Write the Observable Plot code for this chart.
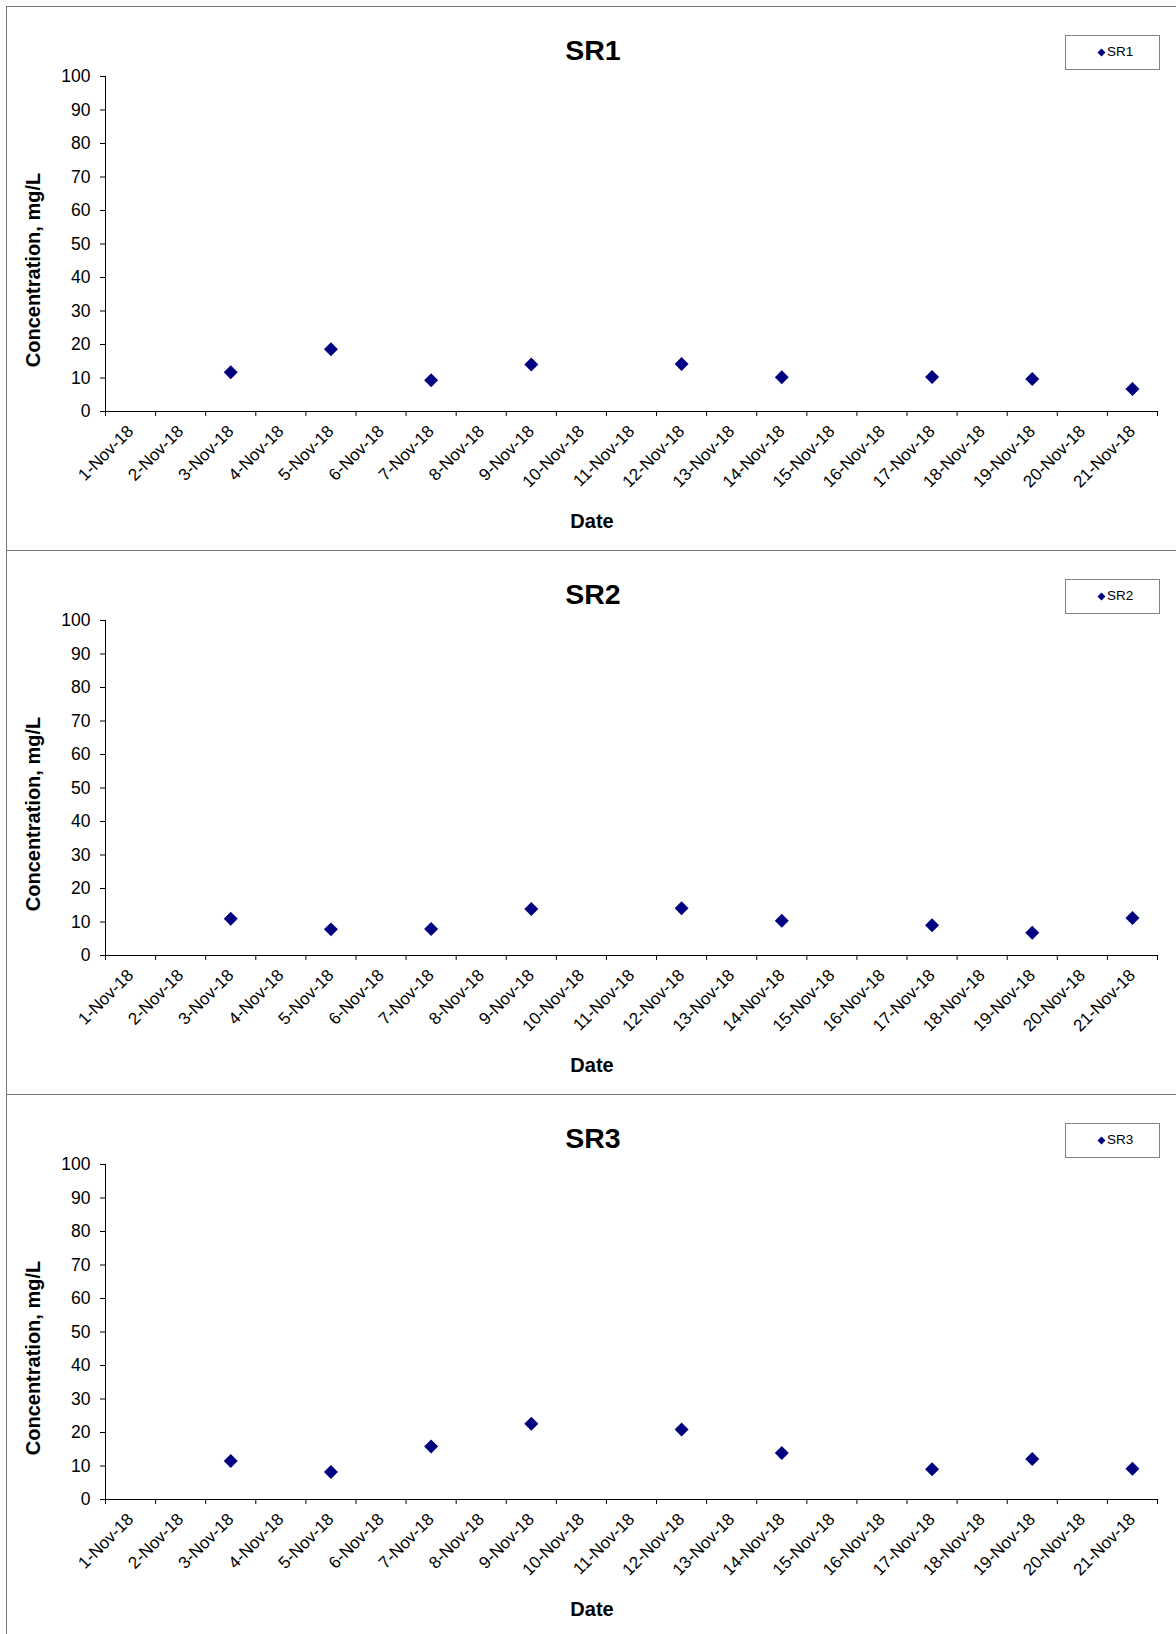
<!DOCTYPE html>
<html>
<head>
<meta charset="utf-8">
<script src="https://cdn.jsdelivr.net/npm/d3@7"></script>
<script src="https://cdn.jsdelivr.net/npm/@observablehq/plot@0.6"></script>
<style>
  html, body { margin: 0; padding: 0; background: #fff; overflow: hidden; }
  #root { position: relative; width: 1176px; height: 1634px; overflow: hidden; background: #fff;
          font-family: "Liberation Sans", Arial, sans-serif; color: #000; }
  .panel { position: absolute; left: 6px; width: 1170px; height: 544px; box-sizing: border-box;
           border-top: 1px solid #777; border-left: 1px solid #777; }
  .panel svg { position: absolute; left: 0; top: 0; }
  .title { position: absolute; left: 0; width: 1172px; top: 29px; text-align: center;
           font-size: 28.5px; line-height: 28px; font-weight: bold; }
  .xlabel { position: absolute; left: 0; width: 1170px; top: 504px; text-align: center;
            font-size: 20px; line-height: 20px; font-weight: bold; }
  .ylabel { position: absolute; left: 26px; top: 263px; width: 0; height: 0; }
  .ylabel span { position: absolute; left: 0; top: 0; white-space: nowrap; font-size: 20px; line-height: 20px;
                 font-weight: bold; transform: translate(-50%, -50%) rotate(-90deg); }
  .legend { position: absolute; left: 1058px; top: 28px; width: 95px; height: 35px; box-sizing: border-box;
            border: 1px solid #808080; font-size: 13.5px; }
  .legend svg { position: absolute; left: 31px; top: 12px; }
  .legend .lt { position: absolute; left: 41px; top: 9px; line-height: 14px; }
</style>
</head>
<body>
<div id="root"></div>
<script>
const dates = ["1-Nov-18","2-Nov-18","3-Nov-18","4-Nov-18","5-Nov-18","6-Nov-18","7-Nov-18","8-Nov-18","9-Nov-18","10-Nov-18","11-Nov-18","12-Nov-18","13-Nov-18","14-Nov-18","15-Nov-18","16-Nov-18","17-Nov-18","18-Nov-18","19-Nov-18","20-Nov-18","21-Nov-18"];
const sampleDates = ["3-Nov-18","5-Nov-18","7-Nov-18","9-Nov-18","12-Nov-18","14-Nov-18","17-Nov-18","19-Nov-18","21-Nov-18"];
const sr1 = [11.7, 18.6, 9.3, 14.0, 14.2, 10.2, 10.3, 9.7, 6.7];
const sr2 = [11.0, 7.8, 7.9, 13.9, 14.1, 10.4, 9.0, 6.8, 11.2];
const sr3 = [11.5, 8.2, 15.8, 22.6, 20.9, 13.9, 9.0, 12.1, 9.2];
const seriesNames = ["SR1", "SR2", "SR3"];
const seriesValues = [sr1, sr2, sr3];
const yTicks = [0, 10, 20, 30, 40, 50, 60, 70, 80, 90, 100];
const yLabel = "Concentration, mg/L";
const xLabel = "Date";
const markerColor = "#000080";

const root = document.getElementById("root");

seriesNames.forEach((name, p) => {
  const panel = document.createElement("div");
  panel.className = "panel";
  panel.style.top = (6 + 544 * p) + "px";
  root.appendChild(panel);

  const data = sampleDates.map((d, i) => ({date: d, value: seriesValues[p][i]}));

  const chart = Plot.plot({
    width: 1169,
    height: 543,
    marginLeft: 98,
    marginRight: 19,
    marginTop: 69,
    marginBottom: 139,
    style: {fontFamily: "'Liberation Sans', Arial, sans-serif", fontSize: "17px", color: "#000", background: "transparent", overflow: "visible"},
    x: {domain: [0, dates.length], axis: null},
    y: {domain: [0, 100], axis: null},
    marks: [
      Plot.axisY({ticks: yTicks, tickSize: 5, tickPadding: 10, label: null, fontSize: 17.5, strokeOpacity: 1}),
      Plot.axisX({ticks: d3.range(0, dates.length + 1), tickSize: 5, tickFormat: () => "", label: null, strokeOpacity: 1}),
      Plot.axisX({ticks: dates.map((d, i) => i + 0.5), tickSize: 0, tickRotate: -45, tickPadding: 17,
                  tickFormat: v => dates[Math.floor(v)], label: null, fontSize: 17}),
      Plot.ruleX([0], {stroke: "#000"}),
      Plot.ruleY([0], {stroke: "#000"}),
      Plot.dot(data, {x: d => dates.indexOf(d.date) + 0.5, y: "value", symbol: "diamond2", r: 6.3, fill: markerColor, stroke: "none"})
    ]
  });
  panel.appendChild(chart);

  const t = document.createElement("div");
  t.className = "title"; t.textContent = name; panel.appendChild(t);

  const xl = document.createElement("div");
  xl.className = "xlabel"; xl.textContent = xLabel; panel.appendChild(xl);

  const yl = document.createElement("div");
  yl.className = "ylabel";
  const ys = document.createElement("span"); ys.textContent = yLabel; yl.appendChild(ys);
  panel.appendChild(yl);

  const lg = document.createElement("div");
  lg.className = "legend";
  lg.innerHTML = `<svg width="9" height="9" viewBox="-4.5 -4.5 9 9"><path d="M0,-4L4,0L0,4L-4,0Z" fill="${markerColor}"/></svg><span class="lt"></span>`;
  lg.querySelector(".lt").textContent = name;
  panel.appendChild(lg);
});
</script>
</body>
</html>
